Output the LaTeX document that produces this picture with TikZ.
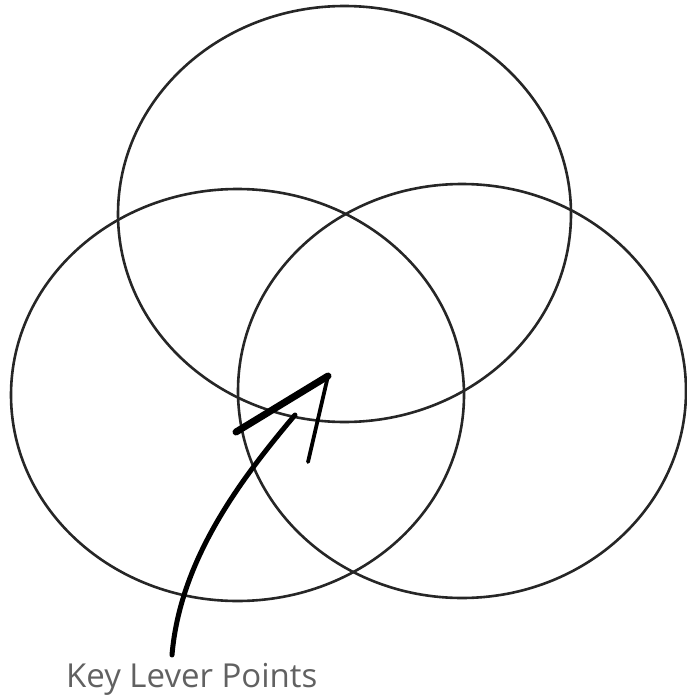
\documentclass[tikz,border=0pt]{standalone}
\usepackage{fontspec}
\setmainfont{Open Sans}
\usepackage{tikz}
\usetikzlibrary{shapes.geometric,positioning}

\tikzset{
  ring/.style={draw=black!85, line width=2.6pt, ellipse, inner sep=0pt},
  shaft/.style={line width=5pt, line cap=round},
}

\begin{document}
\begin{tikzpicture}[x=1pt,y=-1pt, every node/.style={font=\fontsize{33}{40}\selectfont}]
  \useasboundingbox (0,0) rectangle (686,698);
  % the three overlapping areas
  \node[ring, minimum width=453pt, minimum height=416pt] (upper) at (344.5,214) {};
  \node[ring, minimum width=453pt, minimum height=412pt] (leftarea) at (237.5,395) {};
  \node[ring, minimum width=448pt, minimum height=414pt] (rightarea) at (462,391) {};
  % label and hand-drawn arrow
  \node[anchor=base west, inner sep=0pt, text=black!62] (levers) at (66,687) {Key Lever Points};
  \coordinate (foot) at (172,655);
  \coordinate (neck) at (295,415);
  \coordinate (tip) at (328,376);
  \coordinate (barbleft) at (236,432);
  \coordinate (barbright) at (308,462);
  \draw[shaft] (foot) .. controls (180,560) and (240,480) .. (neck);
  \draw[line width=7pt, line cap=round] (barbleft) -- (tip);
  \draw[line width=3.8pt, line cap=round] (tip) -- (barbright);
\end{tikzpicture}
\end{document}
